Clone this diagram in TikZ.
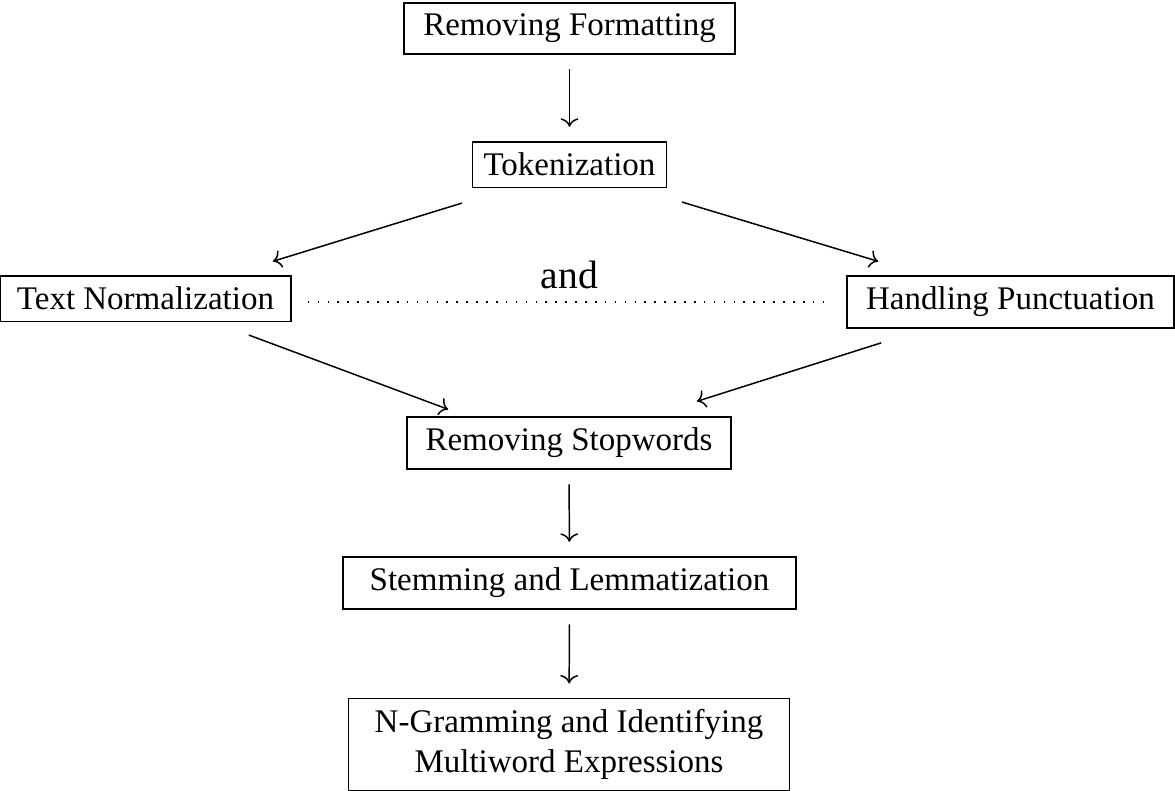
\documentclass[tikz,border=0pt]{standalone}
\usepackage{fontspec}
\setmainfont{Liberation Serif}
\usetikzlibrary{calc,arrows.meta}
\tikzset{
  stepbox/.style={draw, line width=0.45pt, inner sep=3.33pt},
  flow/.style={->, line width=0.45pt},
  vflow/.style={flow, shorten >=4.4pt, shorten <=4.4pt},
  dotsep/.style={line width=0.5pt, dash pattern=on 0.5pt off 2.5pt}
}
\begin{document}
\begin{tikzpicture}[x=0.303pt, y=-0.303pt]
\useasboundingbox (0,0) rectangle (1175,791);
\node[stepbox, anchor=base, minimum width=100.3pt] (rf) at (569.5,36) {Removing Formatting};
\node[stepbox, anchor=base, minimum width=58.5pt] (tok) at (569.5,176) {Tokenization};
\node[stepbox, anchor=base, minimum width=88.2pt] (tn) at (145.5,310) {Text Normalization};
\node[stepbox, anchor=base, minimum width=99.1pt] (hp) at (1010.5,310) {Handling Punctuation};
\node[anchor=base, inner sep=0pt, font=\large] (and) at (569.5,289) {and};
\node[stepbox, anchor=base, minimum width=98.2pt] (rs) at (569,451) {Removing Stopwords};
\node[stepbox, anchor=base, minimum width=137.3pt] (st) at (569.5,591) {Stemming and Lemmatization};
\node[stepbox, anchor=north, align=center, minimum width=133.6pt] (ng) at (569,698) {N-Gramming and Identifying\\Multiword Expressions};

\draw[vflow] (rf) -- (tok);
\draw[flow] ($(tok.south)+(-107.5,15)$) -- ($(tn.north east)+(-19,-14)$);
\draw[flow] ($(tok.south)+(112.5,14)$) -- ($(hp.north west)+(32,-14)$);
\draw[dotsep] ($(tn.east |- hp.west)+(16,0)$) -- ($(hp.west)+(-19,0)$);
\draw[flow] ($(tn.south east)+(-43,13)$) -- ($(rs.north west)+(42,-7)$);
\draw[flow] ($(hp.south west)+(35,14)$) -- ($(rs.north east)+(-35,-15)$);
\draw[vflow] (rs) -- (st);
\draw[vflow] (st) -- (ng);
\end{tikzpicture}
\end{document}
